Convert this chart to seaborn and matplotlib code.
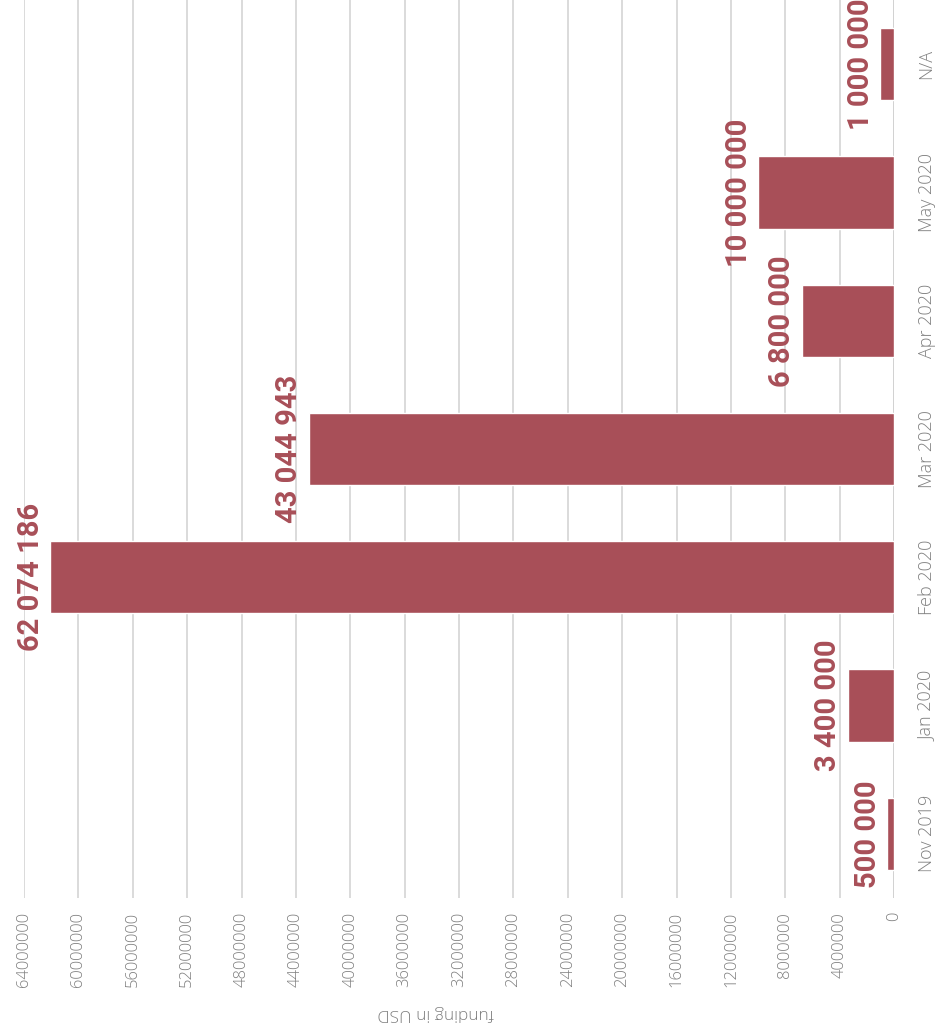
import matplotlib
matplotlib.use("Agg")
import matplotlib.pyplot as plt
import seaborn as sns
import pandas as pd

categories = ["Nov 2019", "Jan 2020", "Feb 2020", "Mar 2020", "Apr 2020", "May 2020", "N/A"]
funding = [500000, 3400000, 62074186, 43044943, 6800000, 10000000, 1000000]
x_ticks = [0, 4000000, 8000000, 12000000, 16000000, 20000000, 24000000, 28000000,
           32000000, 36000000, 40000000, 44000000, 48000000, 52000000, 56000000,
           60000000, 64000000]
axis_title = "funding in USD"

bar_color = "#a84f58"
tick_color = "#7f7f7f"

sns.set_theme(style="white")
plt.rcParams["font.family"] = ["Open Sans", "DejaVu Sans"]

df = pd.DataFrame({"category": categories, "funding": funding})

fig = plt.figure(figsize=(9.47, 10.35), dpi=100)
ax = fig.add_axes([24 / 947, 1 - 898 / 1035, 870 / 947, 898 / 1035])

sns.barplot(data=df, x="funding", y="category", order=categories[::-1],
            orient="h", color=bar_color, saturation=1, width=0.5625, ax=ax)

ax.set_xlim(64000000, 0)
ax.set_ylim(6.5, -0.5)
ax.set_xticks(x_ticks)
ax.set_xticklabels([str(v) for v in x_ticks], rotation=90, color=tick_color,
                   fontsize=12, fontweight="light", va="top", ha="center")
ax.tick_params(axis="x", length=0, pad=10)
ax.yaxis.tick_right()
ax.set_yticks(range(len(categories)))
ax.set_yticklabels(categories[::-1], rotation=90, color=tick_color,
                   fontsize=13, fontweight="light", va="center", ha="left")
ax.tick_params(axis="y", length=0, pad=17)
ax.set_ylabel("")

ax.grid(axis="x", color="#d4d4d4", linewidth=1.2)
ax.grid(axis="y", visible=False)
ax.set_axisbelow(True)
for s in ax.spines.values():
    s.set_visible(False)
ax.axvline(0, color="#c4c4c4", linewidth=2, zorder=0.5)

ax.set_xlabel(axis_title, rotation=180, color=tick_color, fontsize=12.5,
              fontweight="light", va="center", ha="center")
ax.xaxis.set_label_coords(0.4736, -0.128)

for i, cat in enumerate(categories[::-1]):
    val = df.loc[df["category"] == cat, "funding"].iloc[0]
    label = f"{val:,}".replace(",", " ")
    ax.annotate(label, xy=(val, i), xytext=(-4, 0), textcoords="offset points",
                rotation=90, ha="center", va="bottom", rotation_mode="anchor",
                color=bar_color, fontsize=21, fontweight="bold",
                family=["Roboto", "DejaVu Sans"],
                annotation_clip=False, clip_on=False)

fig.savefig("out.png", dpi=100)
